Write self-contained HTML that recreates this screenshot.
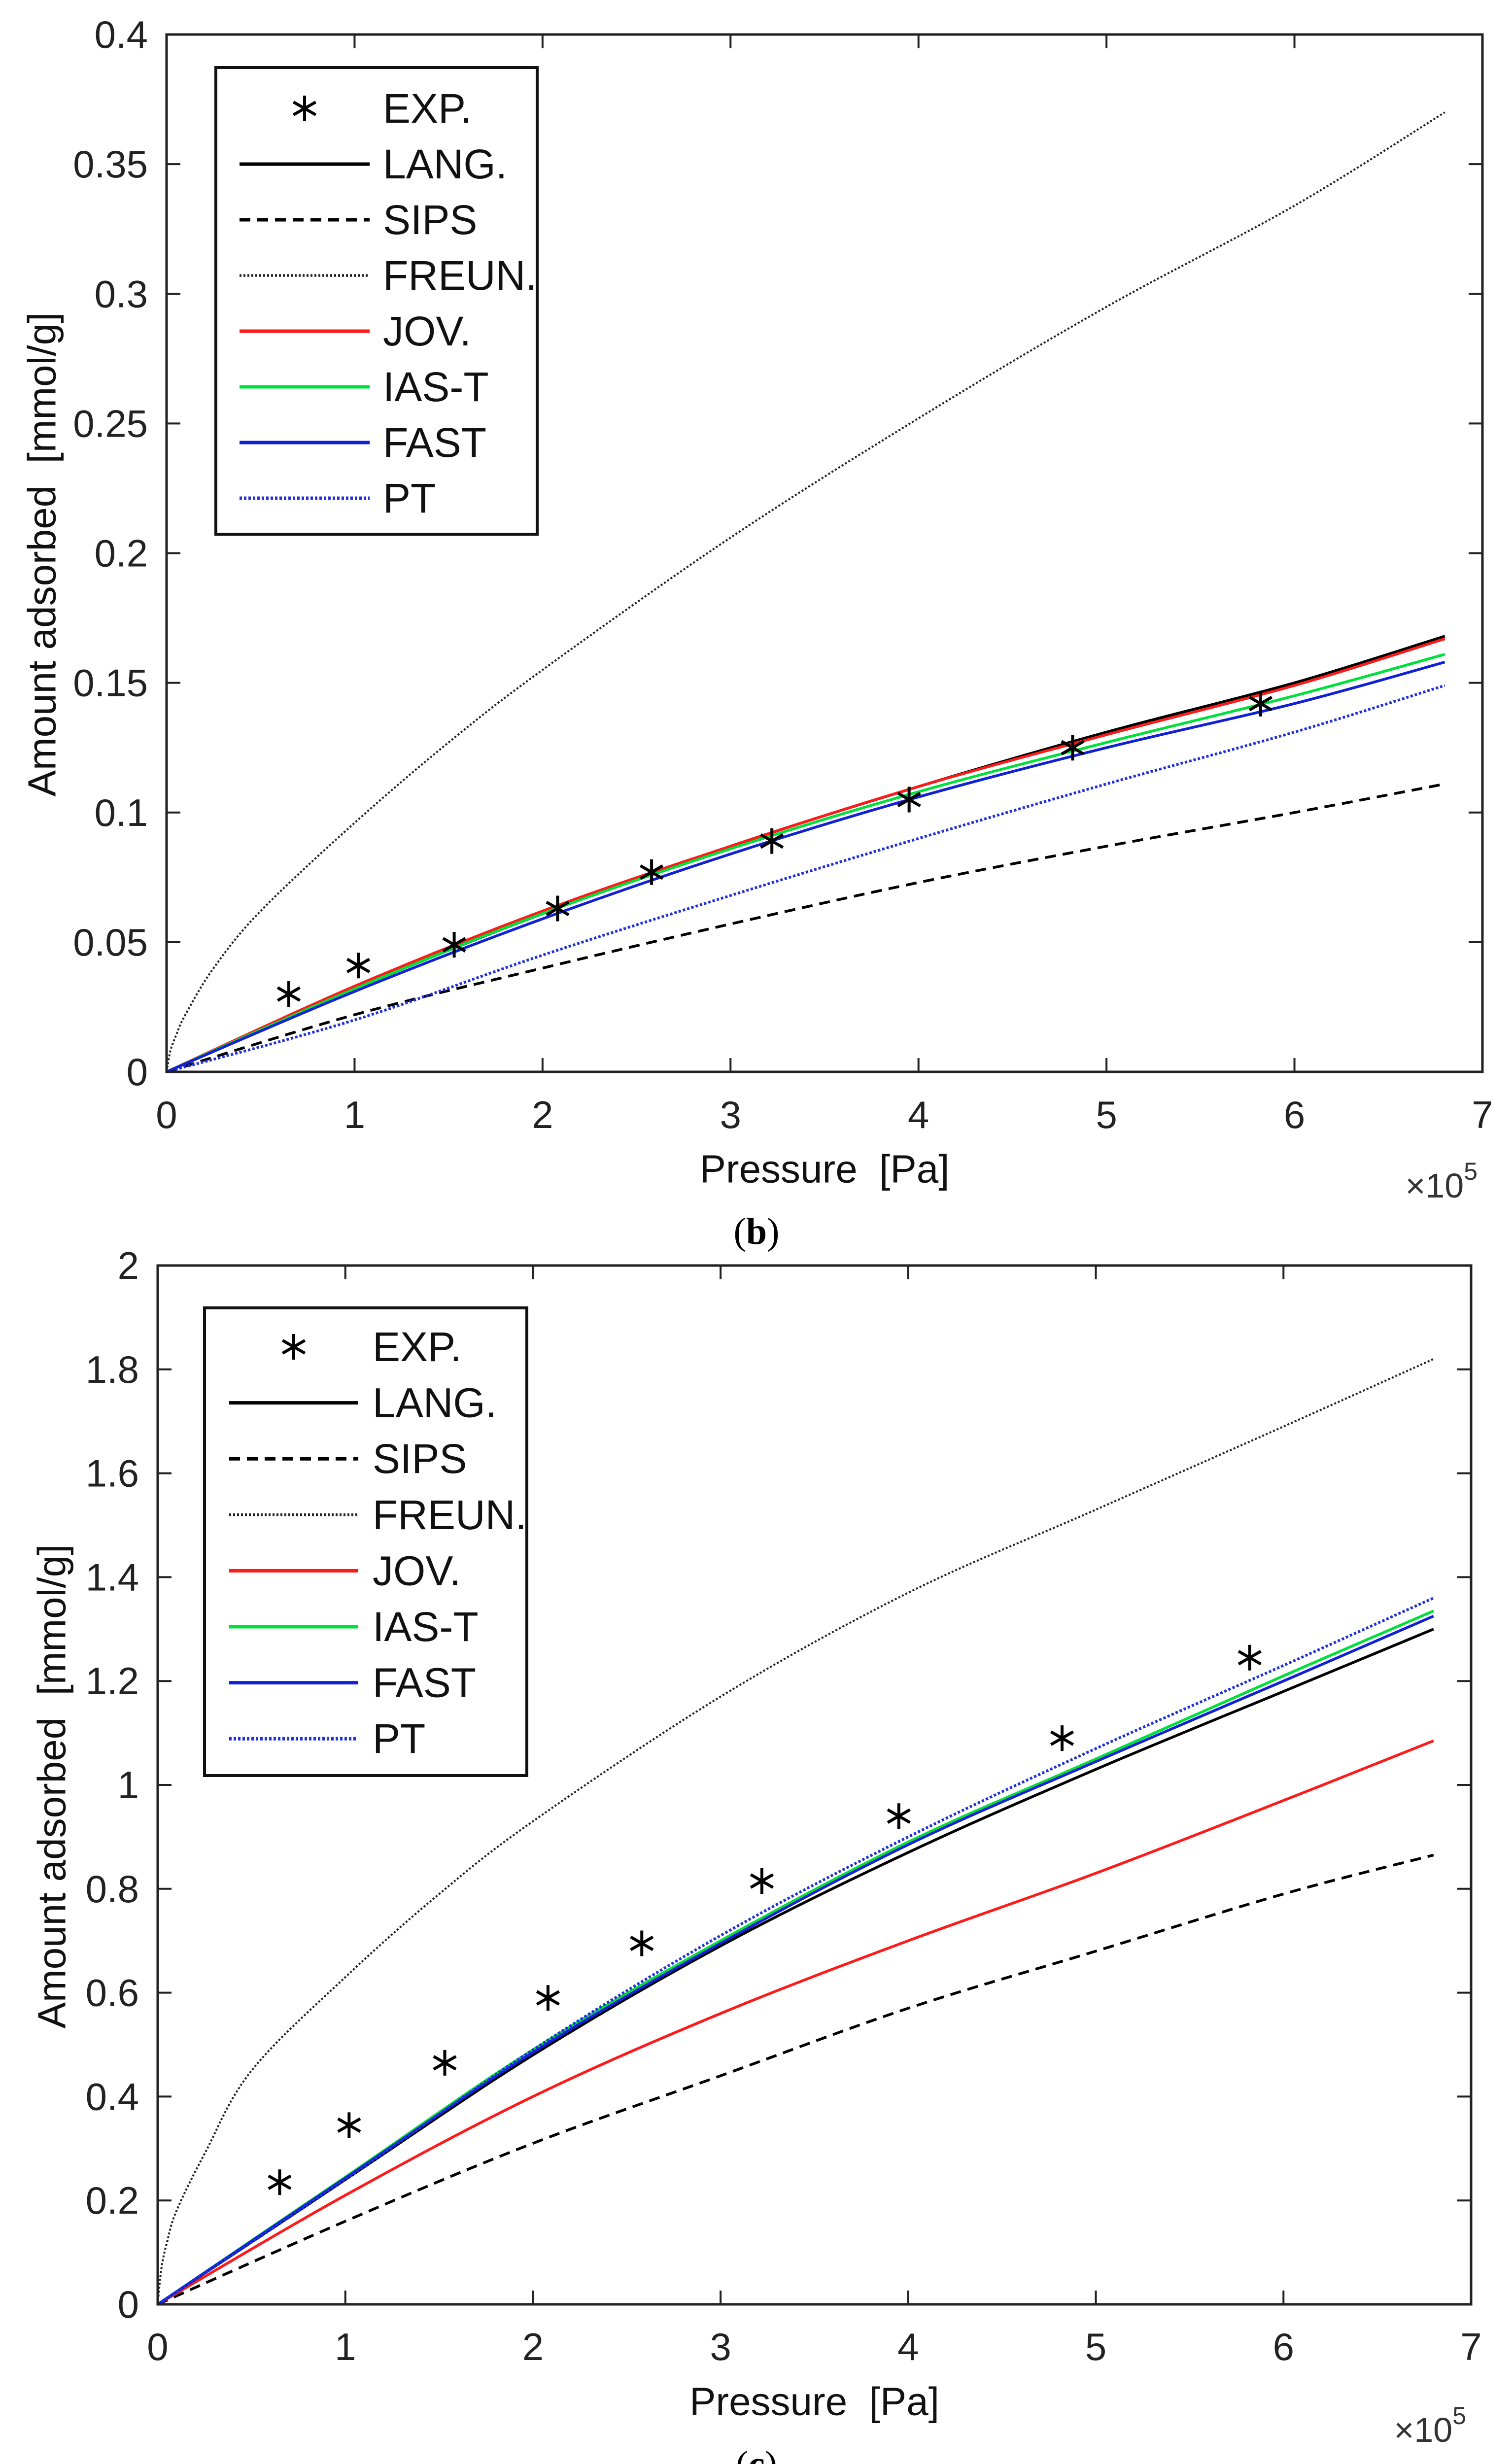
<!DOCTYPE html>
<html><head><meta charset="utf-8">
<style>
html,body{margin:0;padding:0;background:#fff;width:3068px;height:5075px;overflow:hidden;}
svg{display:block;font-family:"Liberation Sans",Arial,sans-serif;}
</style></head>
<body>
<svg id="fig" width="3068" height="5075" viewBox="0 0 3068 5075" xmlns="http://www.w3.org/2000/svg"></svg>
<script>
// ---------- data: panel (b) ----------
const xTicks = [0,1,2,3,4,5,6,7];
const bYTicks = [0,0.05,0.1,0.15,0.2,0.25,0.3,0.35,0.4];
const bYLabels = ["0","0.05","0.1","0.15","0.2","0.25","0.3","0.35","0.4"];
const bExpX = [0.65,1.02,1.53,2.08,2.58,3.22,3.95,4.82,5.82];
const bExpY = [0.030,0.041,0.049,0.063,0.077,0.089,0.105,0.125,0.142];
const curveX = [0,1,2,3,4,5,6,6.8];
const freunX = [0,0.02,0.05,0.1,0.25,0.5,1,1.5,2,3,4,5,6,6.8];
const bLang = [0,0.032,0.061,0.087,0.110,0.131,0.150,0.168];
const bSips = [0,0.022,0.040,0.057,0.073,0.087,0.100,0.111];
const bFreun = [0,0.008,0.014,0.022,0.040,0.062,0.096,0.127,0.155,0.206,0.252,0.295,0.334,0.370];
const bJov = [0,0.033,0.062,0.087,0.110,0.130,0.149,0.167];
const bIas = [0,0.032,0.061,0.086,0.108,0.127,0.145,0.161];
const bFast = [0,0.031,0.059,0.084,0.106,0.125,0.142,0.158];
const bPt = [0,0.020,0.045,0.068,0.090,0.111,0.131,0.149];
// ---------- data: panel (c) ----------
const cYTicks = [0,0.2,0.4,0.6,0.8,1,1.2,1.4,1.6,1.8,2];
const cYLabels = ["0","0.2","0.4","0.6","0.8","1","1.2","1.4","1.6","1.8","2"];
const cExpX = [0.65,1.02,1.53,2.08,2.58,3.22,3.95,4.82,5.82];
const cExpY = [0.235,0.345,0.465,0.59,0.695,0.815,0.94,1.09,1.245];
const cLang = [0,0.24,0.48,0.69,0.87,1.03,1.18,1.30];
const cSips = [0,0.16,0.31,0.44,0.57,0.68,0.79,0.865];
const cFreun = [0,0.07,0.12,0.18,0.29,0.45,0.63,0.79,0.93,1.17,1.37,1.53,1.69,1.82];
const cJov = [0,0.21,0.40,0.56,0.70,0.83,0.97,1.085];
const cIas = [0,0.245,0.49,0.70,0.89,1.05,1.21,1.335];
const cFast = [0,0.243,0.485,0.695,0.885,1.045,1.20,1.325];
const cPt = [0,0.24,0.49,0.71,0.90,1.07,1.23,1.36];
const legendNames = ["EXP.","LANG.","SIPS","FREUN.","JOV.","IAS-T","FAST","PT"];

const NS="http://www.w3.org/2000/svg";
const svg=document.getElementById('fig');
function mk(tag,attrs,parent){const e=document.createElementNS(NS,tag);for(const k in attrs)e.setAttribute(k,attrs[k]);(parent||svg).appendChild(e);return e;}

const styles={
 lang:{stroke:"#000",dash:null},
 sips:{stroke:"#000",dash:"22 14"},
 freun:{stroke:"#222",dash:"4 4",w:4},
 jov:{stroke:"#ff1a1a",dash:null},
 ias:{stroke:"#00e03a",dash:null},
 fast:{stroke:"#1020d8",dash:null},
 pt:{stroke:"#2030e0",dash:"5 4"}
};

function smoothPath(P){
  let d="M"+P[0][0].toFixed(1)+","+P[0][1].toFixed(1);
  for(let i=0;i<P.length-1;i++){
    const p0=P[i-1]||P[i],p1=P[i],p2=P[i+1],p3=P[i+2]||P[i+1];
    const c1=[p1[0]+(p2[0]-p0[0])/6,p1[1]+(p2[1]-p0[1])/6];
    const c2=[p2[0]-(p3[0]-p1[0])/6,p2[1]-(p3[1]-p1[1])/6];
    d+=" C"+c1[0].toFixed(1)+","+c1[1].toFixed(1)+" "+c2[0].toFixed(1)+","+c2[1].toFixed(1)+" "+p2[0].toFixed(1)+","+p2[1].toFixed(1);
  }
  return d;
}

function star(g,cx,cy,r){
  const s=mk('g',{},g);
  
  
  [[0,-r,0,r],[-r*0.87,-r*0.5,r*0.87,r*0.5],[-r*0.87,r*0.5,r*0.87,-r*0.5]].forEach(l=>{
    mk('line',{x1:cx+l[0],y1:cy+l[1],x2:cx+l[2],y2:cy+l[3],stroke:"#000","stroke-width":6},s);
  });
}

function panel(cfg){
  const {L,R,T,B,ymax,yTicks,yLabels,series,expX,expY,name,leg,ylabX,ylabY,letter,letterY,tickLabelY,xlabY,expoY,ytlRight}=cfg;
  const g=mk('g',{});
  
  
  const xs=v=>L+(R-L)*v/7;
  const ys=v=>B-(B-T)*v/ymax;
  const cg=mk('g',{},g);
  
  
  series.forEach(s=>{
    const st=styles[s.key];
    const P=s.x.map((x,i)=>[xs(x),ys(s.y[i])]);
    const p=mk('path',{d:smoothPath(P),fill:"none",stroke:st.stroke,"stroke-width":st.w||5.5,"stroke-linejoin":"round"},cg);
    if(st.dash)p.setAttribute('stroke-dasharray',st.dash);
    
    
  });
  expX.forEach((x,i)=>star(g,xs(x),ys(expY[i]),26));
  const box=mk('rect',{x:L,y:T,width:R-L,height:B-T,fill:"none",stroke:"#222","stroke-width":5},g);
  
  
  xTicks.forEach(t=>{
    const x=xs(t);
    mk('line',{x1:x,y1:B,x2:x,y2:B-28,stroke:"#222","stroke-width":4},g);
    mk('line',{x1:x,y1:T,x2:x,y2:T+28,stroke:"#222","stroke-width":4},g);
    const tx=mk('text',{x:x,y:tickLabelY,"font-size":78,"text-anchor":"middle","dominant-baseline":"central",fill:"#222"},g);
    tx.textContent=String(t);
    
    
  });
  yTicks.forEach((t,i)=>{
    const y=ys(t);
    mk('line',{x1:L,y1:y,x2:L+28,y2:y,stroke:"#222","stroke-width":4},g);
    mk('line',{x1:R,y1:y,x2:R-28,y2:y,stroke:"#222","stroke-width":4},g);
    const tx=mk('text',{x:ytlRight,y:y,"font-size":78,"text-anchor":"end","dominant-baseline":"central",fill:"#222"},g);
    tx.textContent=yLabels[i];
    
    
  });
  const xl=mk('text',{x:(L+R)/2,y:xlabY,"font-size":80,"text-anchor":"middle","dominant-baseline":"central",fill:"#111"},g);
  xl.textContent="Pressure\u00a0\u00a0[Pa]";
  
  
  const ex=mk('text',{x:R-10,y:expoY,"font-size":70,"text-anchor":"end",fill:"#333"},g);
  ex.innerHTML='×10<tspan dy="-36" font-size="50">5</tspan>';
  
  
  const yl=mk('text',{x:ylabX,y:ylabY,"font-size":80,"text-anchor":"middle","dominant-baseline":"central",fill:"#111",transform:`rotate(-90 ${ylabX} ${ylabY})`},g);
  yl.textContent="Amount adsorbed\u00a0\u00a0[mmol/g]";
  
  
  const lt=mk('text',{x:1535,y:letterY,"font-size":76,"text-anchor":"middle","dominant-baseline":"central",fill:"#000","font-family":"Liberation Serif, serif"},g);
  lt.innerHTML='(<tspan font-weight="bold">'+letter+'</tspan>)';
  
  
  const lg=mk('g',{},g);
  
  
  mk('rect',{x:leg.x,y:leg.y,width:leg.w,height:leg.h,fill:"#fff",stroke:"#111","stroke-width":6},lg);
  const keys=[null,"lang","sips","freun","jov","ias","fast","pt"];
  legendNames.forEach((n,i)=>{
    const y=leg.row0+i*leg.dy;
    const eg=mk('g',{},lg);
    
    
    if(i===0){star(eg,leg.lx1+(leg.lx2-leg.lx1)*0.5,y,26);}
    else{
      const st=styles[keys[i]];
      const l=mk('line',{x1:leg.lx1,y1:y,x2:leg.lx2,y2:y,stroke:st.stroke,"stroke-width":(st.w||5.5)+1.5},eg);
      if(st.dash)l.setAttribute('stroke-dasharray',st.dash);
    }
    const t=mk('text',{x:leg.tx,y:y,"font-size":84,"dominant-baseline":"central",fill:"#111"},eg);
    t.textContent=n;
  });
}

panel({L:338,R:3008,T:70,B:2175,ymax:0.4,yTicks:bYTicks,yLabels:bYLabels,
 series:[{key:"freun",x:freunX,y:bFreun},{key:"sips",x:curveX,y:bSips},{key:"pt",x:curveX,y:bPt},{key:"lang",x:curveX,y:bLang},{key:"jov",x:curveX,y:bJov},{key:"ias",x:curveX,y:bIas},{key:"fast",x:curveX,y:bFast}],
 expX:bExpX,expY:bExpY,name:"panel-b",
 leg:{x:438,y:137,w:652,h:947,row0:220,dy:113,lx1:486,lx2:750,tx:777},
 ylabX:85,ylabY:1125,letter:"b",letterY:2499,tickLabelY:2262,xlabY:2372,expoY:2430,ytlRight:300});

panel({L:320,R:2985,T:2568,B:4676,ymax:2,yTicks:cYTicks,yLabels:cYLabels,
 series:[{key:"freun",x:freunX,y:cFreun},{key:"sips",x:curveX,y:cSips},{key:"jov",x:curveX,y:cJov},{key:"lang",x:curveX,y:cLang},{key:"ias",x:curveX,y:cIas},{key:"fast",x:curveX,y:cFast},{key:"pt",x:curveX,y:cPt}],
 expX:cExpX,expY:cExpY,name:"panel-c",
 leg:{x:415,y:2654,w:654,h:949,row0:2733,dy:113.6,lx1:465,lx2:727,tx:756},
 ylabX:105,ylabY:3625,letter:"c",letterY:5001,tickLabelY:4762,xlabY:4873,expoY:4955,ytlRight:282});
</script>
</body></html>
